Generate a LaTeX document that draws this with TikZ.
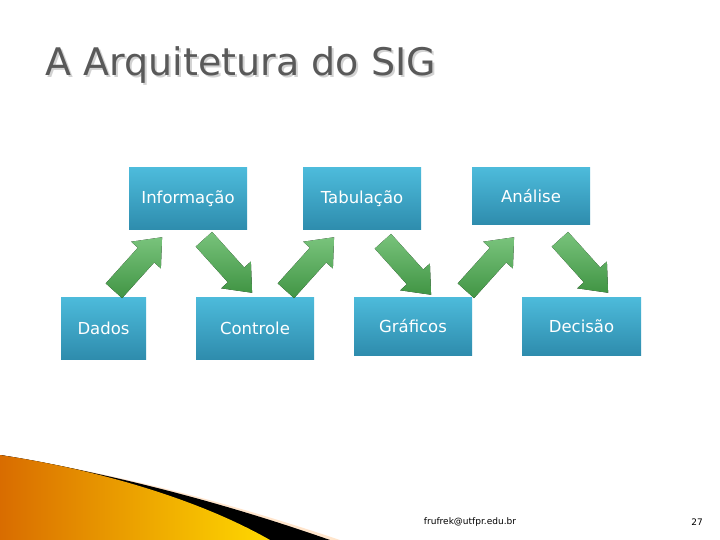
\documentclass[tikz,border=0pt]{standalone}
\usepackage{fontspec}
\setmainfont{DejaVu Sans}
\definecolor{boxtop}{HTML}{4DBBDB}
\definecolor{boxbot}{HTML}{2E8CAD}
\definecolor{arrg}{HTML}{4CAF50}
\newcommand\garrow[3]{%
  \begin{scope}[shift={(#1)},rotate=#2]
    \fill[barrowstyle] (-36,-11) -- (12,-11) -- (12,-20) -- (36,0) -- (12,20) -- (12,11) -- (-36,11) -- cycle;
    \coordinate (#3) at (0,0);
  \end{scope}}
\begin{document}
\begin{tikzpicture}[x=1pt,y=-1pt,
  box/.style={rectangle,top color=boxtop,bottom color=boxbot,text=white,font=\fontsize{16.5}{18}\selectfont,inner sep=0pt},
  barrowstyle/.style={top color=arrg!75!white,bottom color=arrg!85!black}]
\useasboundingbox (0,0) rectangle (720,540);
\fill[white] (0,0) rectangle (720,540);
% swoosh
\fill[orange!20] (0,455) .. controls (150,480) and (250,510) .. (340,540) -- (0,540) -- cycle;
\fill[black] (0,455) .. controls (120,475) and (230,505) .. (330,540) -- (0,540) -- cycle;
\fill[left color=orange!85!black,right color=yellow!70!orange] (0,455) .. controls (100,470) and (200,500) .. (270,540) -- (0,540) -- cycle;
% title
\node[anchor=west,text=gray!35,font=\fontsize{38}{42}\selectfont] (shadow) at (44,67) {A Arquitetura do SIG};
\node[anchor=west,text=black!65,font=\fontsize{38}{42}\selectfont] (title) at (42,65) {A Arquitetura do SIG};
% boxes
\node[box,minimum width=118pt,minimum height=62pt] (info) at (188,199) {Informação};
\node[box,minimum width=118pt,minimum height=62pt] (tab) at (362,199) {Tabulação};
\node[box,minimum width=118pt,minimum height=57pt] (anal) at (531,196) {Análise};
\node[box,minimum width=85pt,minimum height=62pt] (dados) at (103.5,328) {Dados};
\node[box,minimum width=118pt,minimum height=62pt] (ctrl) at (255,328) {Controle};
\node[box,minimum width=118pt,minimum height=58pt] (graf) at (413,326) {Gráficos};
\node[box,minimum width=119pt,minimum height=58pt] (dec) at (581.5,326) {Decisão};
% arrows
\garrow{138,264}{48}{a1}
\garrow{228,266}{-48}{a2}
\garrow{310,264}{48}{a3}
\garrow{407,268}{-48}{a4}
\garrow{490,264}{48}{a5}
\garrow{584,266}{-48}{a6}
% footer
\node[font=\fontsize{9}{10}\selectfont] (mail) at (470,522) {frufrek@utfpr.edu.br};
\node[font=\fontsize{9}{10}\selectfont] (pg) at (697,522) {27};
\end{tikzpicture}
\end{document}
